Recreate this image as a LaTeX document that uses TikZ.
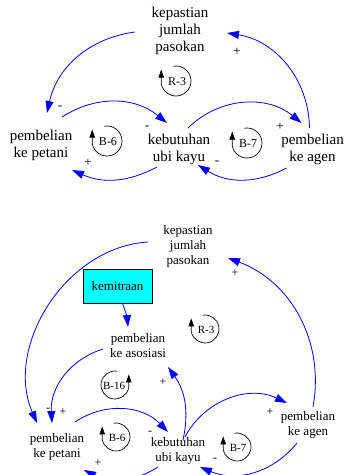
\documentclass[tikz,border=0pt]{standalone}
\usepackage{fontspec}
\setmainfont{Liberation Serif}
\usetikzlibrary{arrows.meta,calc}
\definecolor{boxcyan}{RGB}{0,255,255}
\definecolor{linkblue}{RGB}{0,0,255}
\begin{document}
\begin{tikzpicture}[x=1pt,y=1pt,
 var/.style={align=center,inner sep=0pt,font=\fontsize{15}{17}\selectfont},
 varb/.style={align=center,inner sep=0pt,font=\fontsize{13}{15}\selectfont},
 link/.style={draw=linkblue,line width=0.8pt,-{Triangle[length=12pt,width=8pt]}},
 pol/.style={inner sep=0pt,font=\fontsize{13}{13}\selectfont},
 polb/.style={inner sep=0pt,font=\fontsize{12}{12}\selectfont},
 loopln/.style={draw=black,line width=0.7pt,-{Triangle[length=8pt,width=5.5pt]}},
 looptxt/.style={inner sep=0pt,font=\fontsize{12}{12}\selectfont},
 looptxtb/.style={inner sep=0pt,font=\fontsize{11}{11}\selectfont},
 boxvar/.style={draw=black,fill=boxcyan,line width=0.8pt,minimum width=69pt,minimum height=34pt,inner sep=0pt,font=\fontsize{13}{13}\selectfont},
]
\useasboundingbox (0,0) rectangle (344,-475);

% ---------------- top diagram ----------------
\node[var] (kep1) at (180,-31) {kepastian\\jumlah\\pasokan};
\node[var] (pet1) at (41,-145) {pembelian\\ke petani};
\node[var] (keb1) at (179,-149) {kebutuhan\\ubi kayu};
\node[var] (age1) at (312.5,-149) {pembelian\\ke agen};

\draw[link] ([shift={(-45,-1)}]kep1.center) to[bend right=35] ([shift={(6,32)}]pet1.center);
\draw[link] ([shift={(21,28)}]pet1.center) to[bend left=36] ([shift={(-12,26)}]keb1.center);
\draw[link] ([shift={(-22,-18)}]keb1.center) to[bend left=26] ([shift={(31,-25)}]pet1.center);
\draw[link] ([shift={(9,21)}]keb1.center) to[bend left=42] ([shift={(-11,26)}]age1.center);
\draw[link] ([shift={(-26,-19)}]age1.center) to[bend left=30] ([shift={(19,-16)}]keb1.center);
\draw[link] ([shift={(-3,21)}]age1.center) to[bend right=40] ([shift={(47,-2)}]kep1.center);

\node[pol] (t1) at (60,-108) {-};
\node[pol] (t2) at (147,-128) {-};
\node[pol] (t3) at (88,-163) {+};
\node[pol] (t4) at (280,-127) {+};
\node[pol] (t5) at (217,-163) {-};
\node[pol] (t6) at (237,-52) {+};

\draw[loopln] ($(176,-81)+(100:15)$) arc[start angle=100,end angle=-170,radius=15] -- ++(0,14);
\node[looptxt] (L1) at (177,-82) {R-3};
\draw[loopln] ($(107,-141)+(100:15)$) arc[start angle=100,end angle=-170,radius=15] -- ++(0,14);
\node[looptxt] (L2) at (108,-142) {B-6};
\draw[loopln] ($(247,-143)+(100:15)$) arc[start angle=100,end angle=-170,radius=15] -- ++(0,14);
\node[looptxt] (L3) at (248,-144) {B-7};

% ---------------- bottom diagram ----------------
\node[varb] (kep2) at (188,-246) {kepastian\\jumlah\\pasokan};
\node[boxvar] (kem) at (117.5,-286) {kemitraan};
\node[varb] (aso) at (138,-346) {pembelian\\ke asosiasi};
\node[varb] (pet2) at (57,-447) {pembelian\\ke petani};
\node[varb] (keb2) at (178,-451) {kebutuhan\\ubi kayu};
\node[varb] (age2) at (308,-425) {pembelian\\ke agen};

\draw[link] ([xshift=5pt]kem.south) to[bend left=8] ([shift={(-10,19)}]aso.center);
\draw[link] ([shift={(-40,4)}]kep2.center) to[bend right=55] ([shift={(-20,24)}]pet2.center);
\draw[link] ([shift={(-35,-3)}]aso.center) to[bend right=38] ([shift={(-5,24)}]pet2.center);
\draw[link] ([shift={(18,25)}]pet2.center) to[bend left=40] ([shift={(-10,19)}]keb2.center);
\draw[link] ([shift={(5,11)}]keb2.center) to[bend right=24] ([shift={(30,-21)}]aso.center);
\draw[link] ([shift={(-20,-16)}]keb2.center) to[bend left=30] ([shift={(27,-23)}]pet2.center);
\draw[link] ([shift={(7,14)}]keb2.center) to[bend left=44] ([shift={(-21,22)}]age2.center);
\draw[link] ([shift={(-11,-18)}]age2.center) to[bend left=37] ([shift={(22,-16)}]keb2.center);
\draw[link] ([shift={(5,18)}]age2.center) to[bend right=40] ([shift={(40,-12)}]kep2.center);

\node[polb] (b1) at (48,-410) {-};
\node[polb] (b2) at (63,-412) {+};
\node[polb] (b3) at (150,-433) {-};
\node[polb] (b4) at (163,-382) {+};
\node[polb] (b5) at (98,-463) {+};
\node[polb] (b6) at (270,-412) {+};
\node[polb] (b7) at (215,-460) {-};
\node[polb] (b8) at (235,-273) {+};

\draw[loopln] ($(205,-329)+(100:14)$) arc[start angle=100,end angle=-170,radius=14] -- ++(0,13);
\node[looptxtb] (M1) at (206,-330) {R-3};
\draw[loopln] ($(115,-385)+(80:14)$) arc[start angle=80,end angle=350,radius=14] -- ++(0,13);
\node[looptxtb] (M2) at (114,-386) {B-16};
\draw[loopln] ($(116,-437)+(100:14)$) arc[start angle=100,end angle=-170,radius=14] -- ++(0,13);
\node[looptxtb] (M3) at (117,-438) {B-6};
\draw[loopln] ($(237,-447)+(100:14)$) arc[start angle=100,end angle=-170,radius=14] -- ++(0,13);
\node[looptxtb] (M4) at (238,-448) {B-7};
\end{tikzpicture}
\end{document}
